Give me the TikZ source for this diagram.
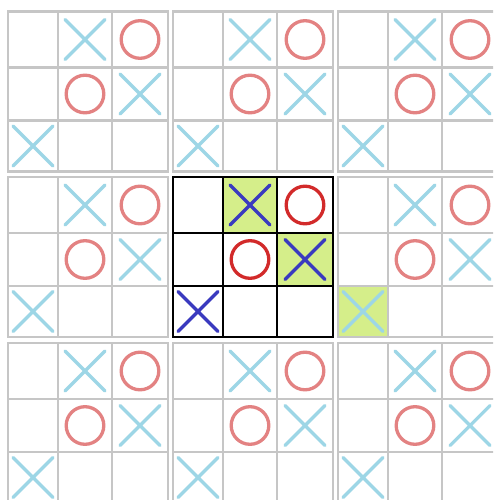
\documentclass[tikz,border=0pt]{standalone}
\definecolor{gridgray}{HTML}{C6C6C6}
\definecolor{lightx}{HTML}{9DD6E6}
\definecolor{lighto}{HTML}{E38282}
\definecolor{darkx}{HTML}{3A3ABF}
\definecolor{darko}{HTML}{D22A2A}
\definecolor{hlgreen}{HTML}{D5EE8A}
\tikzset{
  xmk/.style={line width=3.2pt, line cap=round},
  omk/.style={line width=3.3pt},
  graygrid/.style={draw=gridgray, line width=2.8pt},
  blackgrid/.style={draw=black, line width=2.2pt},
}
% column edges 0,50,104,160 ; row edges 0,56,109,160
\newcommand\cA{25}\newcommand\cB{77}\newcommand\cC{132}
\newcommand\rA{28}\newcommand\rB{82.5}\newcommand\rC{134.5}
\newcommand\markX[3]{\draw[xmk,#3,shift={(#1,#2)}] (-20,-20) -- (20,20) (-20,20) -- (20,-20);}
\newcommand\markO[3]{\draw[omk,#3] (#1,#2) circle[radius=18.8pt];}
\newcommand\gridlines[1]{%
  \draw[#1] (0,0) rectangle (160,160);
  \draw[#1] (50,0) -- (50,160) (104,0) -- (104,160)
            (0,56) -- (160,56) (0,109) -- (160,109);}
\begin{document}
\begin{tikzpicture}[x=1pt,y=-1pt]
\useasboundingbox (0,0) rectangle (493,500);
\clip (0,0) rectangle (493,500);
\fill[white] (0,0) rectangle (493,500);
% highlighted cell of the middle-right board
\fill[hlgreen] (338,286) rectangle (388,337);
% outer boards
\foreach \bx/\by in {8/11.5,173/11.5,338/11.5,8/177,338/177,8/343,173/343,338/343} {
  \begin{scope}[shift={(\bx,\by)}]
    \markX{\cB}{\rA}{lightx}
    \markO{\cC}{\rA}{lighto}
    \markO{\cB}{\rB}{lighto}
    \markX{\cC}{\rB}{lightx}
    \markX{\cA}{\rC}{lightx}
    \gridlines{graygrid}
  \end{scope}
}
% central board
\begin{scope}[shift={(173,177)}]
  \fill[hlgreen] (50,0) rectangle (104,56);
  \fill[hlgreen] (104,56) rectangle (160,109);
  \markX{\cB}{\rA}{darkx}
  \markO{\cC}{\rA}{darko}
  \markO{\cB}{\rB}{darko}
  \markX{\cC}{\rB}{darkx}
  \markX{\cA}{\rC}{darkx}
  \gridlines{blackgrid}
\end{scope}
\end{tikzpicture}
\end{document}
